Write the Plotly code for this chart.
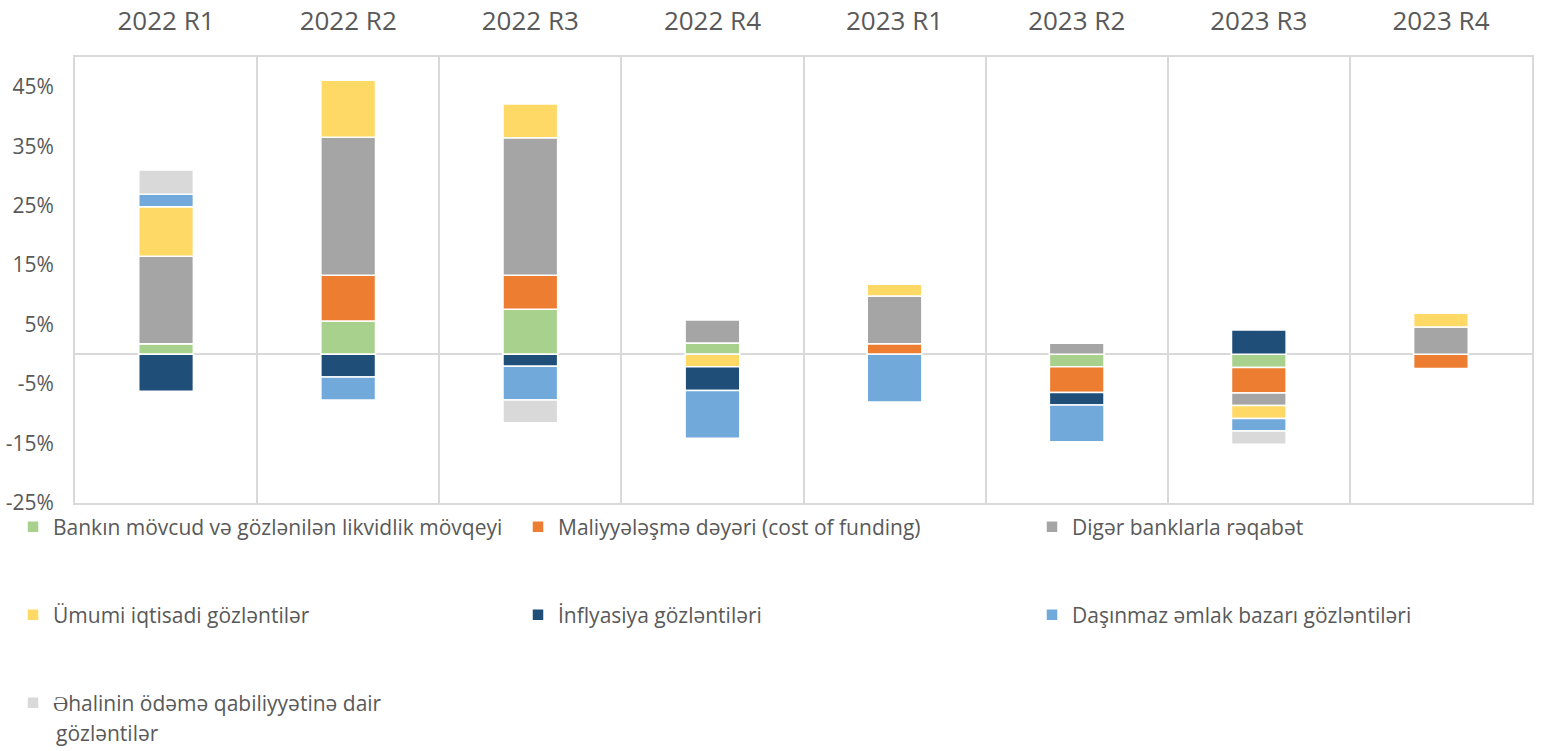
import plotly.graph_objects as go

categories = ["2022 R1", "2022 R2", "2022 R3", "2022 R4", "2023 R1", "2023 R2", "2023 R3", "2023 R4"]

series_names = [
    "Bankın mövcud və gözlənilən likvidlik mövqeyi",
    "Maliyyələşmə dəyəri (cost of funding)",
    "Digər banklarla rəqabət",
    "Ümumi iqtisadi gözləntilər",
    "İnflyasiya gözləntiləri",
    "Daşınmaz əmlak bazarı gözləntiləri",
    "Əhalinin ödəmə qabiliyyətinə dair",
]
last_name_line2 = "gözləntilər"

likvidlik = [1.8, 5.6, 7.6, 1.9, 0.0, -2.1, -2.2, 0.0]
maliyye = [0.0, 7.7, 5.7, 0.0, 1.8, -4.3, -4.3, -2.4]
reqabet = [14.7, 23.2, 23.1, 3.9, 8.0, 1.9, -2.1, 4.6]
iqtisadi = [8.3, 9.6, 5.7, -2.1, 2.0, 0.0, -2.2, 2.4]
inflyasiya = [-6.2, -3.8, -2.0, -4.0, 0.0, -2.1, 4.1, 0.0]
emlak = [2.1, -3.9, -5.7, -8.0, -8.0, -6.2, -2.1, 0.0]
odeme = [4.1, 0.0, -3.8, 0.0, 0.0, 0.0, -2.2, 0.0]

series_values = [likvidlik, maliyye, reqabet, iqtisadi, inflyasiya, emlak, odeme]
colors = ["#A9D18E", "#ED7D31", "#A5A5A5", "#FFD966", "#1F4E79", "#72A9DB", "#D9D9D9"]

y_ticks = [-25, -15, -5, 5, 15, 25, 35, 45]

FONT = "Open Sans"
TXT = "#595959"
W, H = 1546, 751

# legend placement (pixels in the page): one legend per entry, 3 columns
legend_x_px = [13, 518, 1032, 13, 518, 1032, 13]
legend_y_px = [527, 527, 527, 615, 615, 615, 703]

fig = go.Figure()
legend_layout = {}
for i, (name, vals, col) in enumerate(zip(series_names, series_values, colors)):
    lid = "legend" if i == 0 else f"legend{i + 1}"
    fig.add_trace(go.Bar(
        x=categories, y=vals, name=name, width=0.3,
        marker=dict(color=col, line=dict(color="white", width=1.5)),
        legend=lid, showlegend=True,
    ))
    legend_layout[lid] = dict(
        orientation="h", xref="container", yref="container",
        x=legend_x_px[i] / W, y=1 - legend_y_px[i] / H,
        xanchor="left", yanchor="middle",
        font=dict(family=FONT, size=21, color=TXT),
        itemwidth=30, bgcolor="rgba(0,0,0,0)",
    )

# second line of the last legend entry, placed under its first line
fig.add_annotation(
    text=last_name_line2, xref="paper", yref="paper",
    xanchor="left", yanchor="middle",
    x=(54 - 75) / (W - 75 - 14), y=-(733 - 503) / (H - 57 - 248),
    showarrow=False, font=dict(family=FONT, size=21, color=TXT),
)

fig.update_layout(
    barmode="relative",
    showlegend=True,
    width=W, height=H,
    margin=dict(l=75, r=14, t=57, b=248),
    paper_bgcolor="white", plot_bgcolor="white",
    font=dict(family=FONT, color=TXT),
    **legend_layout,
    xaxis=dict(
        type="category", side="top", tickson="boundaries",
        showgrid=True, gridcolor="#D9D9D9", gridwidth=2,
        showline=True, linecolor="#D9D9D9", linewidth=2, mirror=True,
        ticks="", ticklabelstandoff=15, automargin=False,
        tickfont=dict(family=FONT, size=26, color=TXT),
    ),
    yaxis=dict(
        range=[-25, 50], tickvals=y_ticks,
        ticktext=[f"{v}%" for v in y_ticks],
        showgrid=False, zeroline=True, zerolinecolor="#D9D9D9", zerolinewidth=2,
        showline=True, linecolor="#D9D9D9", linewidth=2, mirror=True,
        ticks="", ticklabelstandoff=15, automargin=False,
        tickfont=dict(family=FONT, size=21, color=TXT),
    ),
)

fig.write_html(
    "out.html",
    config={"displayModeBar": False},
    post_script="document.body.style.margin='0';",
)
